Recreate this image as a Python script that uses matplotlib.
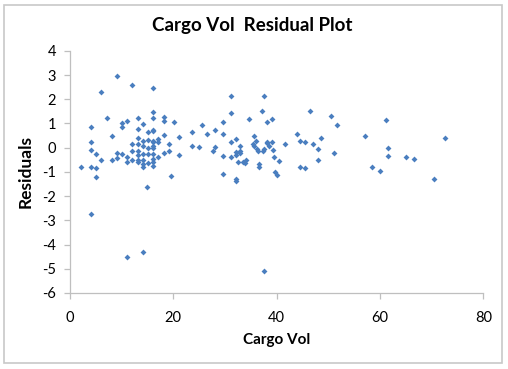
import matplotlib
matplotlib.use("Agg")
import matplotlib.pyplot as plt
from matplotlib.patches import Rectangle

# Cargo Vol (x) and residuals (y)
cargo_vol = [
    2.07, 4.06, 5.1, 5.1, 4.06, 4.06, 4.06, 5.1, 6.06, 6.06, 7.1, 8.07, 8.07, 9.15, 9.1, 9.1,
    10.06, 10.06, 10.06, 11.09, 11.09, 11.09, 12.06, 12.06, 12.06, 12.06,
    13.1, 13.1, 13.1, 13.1, 13.1, 13.1, 13.1, 13.1,
    14.07, 14.07, 14.07, 14.07, 14.07, 14.07, 14.07,
    15.1, 15.1, 15.1, 15.1, 15.1,
    16.1, 16.1, 16.1, 16.1, 16.1, 16.1, 16.1, 16.1, 16.1, 16.1, 16.1, 16.1, 16.1,
    17.1, 17.1, 17.1, 18.1, 18.1, 18.1, 18.1, 19.1, 19.1, 19.6, 20.1, 21.1, 21.1,
    23.6, 23.6, 25.0, 25.6, 26.6,
    4.06, 11.09, 14.07, 15.0,
    31.1, 37.5, 31.1, 37.1, 46.5, 50.6, 51.6, 34.6, 39.1, 38.1, 29.6, 28.1, 29.6,
    35.6, 44.0, 48.5, 32.1, 31.1, 36.0, 38.1, 38.1, 39.1, 35.5, 35.7, 41.6, 44.6, 45.5,
    47.1, 28.1, 33.0, 27.6, 32.1, 33.0, 33.0, 36.1, 36.4, 37.3, 37.5, 39.2, 48.0, 51.1,
    29.6, 31.1, 32.1, 39.5, 40.5, 32.6, 33.5, 33.9, 34.1, 36.6, 36.6, 44.6, 45.5, 48.1,
    29.6, 32.1, 32.1, 39.7, 40.1, 37.5, 38.6,
    61.1, 57.1, 72.6, 61.6, 61.6, 65.1, 66.6, 58.5, 60.0, 70.5,
]
residuals = [
    -0.80, -0.81, -0.84, -1.21, 0.87, 0.22, -0.08, -0.26, 2.28, -0.52, 1.22, 0.48, -0.49, 2.96, -0.22, -0.44,
    1.03, 0.85, -0.26, 1.12, -0.37, -0.60, 2.58, 0.16, -0.12, -0.51,
    1.22, 0.77, 0.40, 0.16, -0.12, -0.29, -0.51, -0.58,
    0.96, 0.29, 0.07, -0.26, -0.51, -0.67, -0.78,
    0.63, 0.33, -0.03, -0.26, -0.62,
    2.47, 1.48, 1.22, 0.75, 0.67, 0.29, 0.22, 0.07, -0.03, -0.26, -0.47, -0.60, -0.74,
    0.36, 0.22, -0.40, 1.25, 1.11, 0.53, -0.23, 0.15, -0.12, -1.15, 1.06, 0.46, -0.29,
    0.65, 0.07, 0.03, 0.92, 0.58,
    -2.73, -4.51, -4.31, -1.63,
    2.14, 2.14, 1.43, 1.52, 1.51, 1.32, 0.93, 1.18, 1.19, 1.04, 1.07, 0.74, 0.58,
    0.49, 0.56, 0.40, 0.34, 0.25, 0.27, 0.25, 0.19, 0.23, 0.15, 0.08, 0.15, 0.26, 0.22,
    0.16, 0.01, 0.05, -0.12, -0.17, -0.12, -0.23, -0.06, -0.12, -0.12, -0.06, -0.10, -0.06, -0.23,
    -0.33, -0.37, -0.32, -0.37, -0.53, -0.58, -0.58, -0.65, -0.51, -0.67, -0.78, -0.81, -0.82, -0.52,
    -1.07, -1.30, -1.39, -1.02, -1.11, -5.09, 0.08,
    1.14, 0.48, 0.38, 0.00, -0.36, -0.38, -0.48, -0.81, -0.96, -1.29,
]
x_ticks = [0, 20, 40, 60, 80]
y_ticks = [-6, -5, -4, -3, -2, -1, 0, 1, 2, 3, 4]

plt.rcParams['font.family'] = ['Lato', 'DejaVu Sans']

fig = plt.figure(figsize=(5.08, 3.69), dpi=100)
fig.patch.set_facecolor('white')
fig.patches.append(Rectangle((4/508, 6/369), 498/508, 358/369, transform=fig.transFigure,
                             fill=False, edgecolor='#c8c8c8', linewidth=1.2))

ax = fig.add_axes([70/508, 1 - 293/369, 413.3/508, 242.2/369])
ax.scatter(cargo_vol, residuals, marker='D', s=9, color='#4A7EBF', linewidths=0, zorder=3)

ax.set_xlim(0, 80)
ax.set_ylim(-6, 4)
ax.set_xticks(x_ticks)
ax.set_yticks(y_ticks)
ax.set_xticklabels([str(v) for v in x_ticks])
ax.set_yticklabels([str(v) for v in y_ticks])

for s in ['top', 'right']:
    ax.spines[s].set_visible(False)
for s in ['left', 'bottom']:
    ax.spines[s].set_color('#bfbfbf')
    ax.spines[s].set_linewidth(0.9)
ax.tick_params(axis='both', colors='#bfbfbf', labelcolor='black', labelsize=10.5,
               length=4, width=0.9, direction='out')
ax.tick_params(axis='x', pad=9)
ax.tick_params(axis='y', pad=6)

ax.set_xlabel('Cargo Vol', fontsize=11, fontweight='bold', labelpad=6)
ax.set_ylabel('Residuals', fontsize=12.5, fontweight='bold', labelpad=6)
fig.text(252/508, 1 - 25/369, 'Cargo Vol  Residual Plot', ha='center', va='center',
         fontsize=13.5, fontweight='bold')

fig.savefig('out.png', dpi=100, facecolor='white')
